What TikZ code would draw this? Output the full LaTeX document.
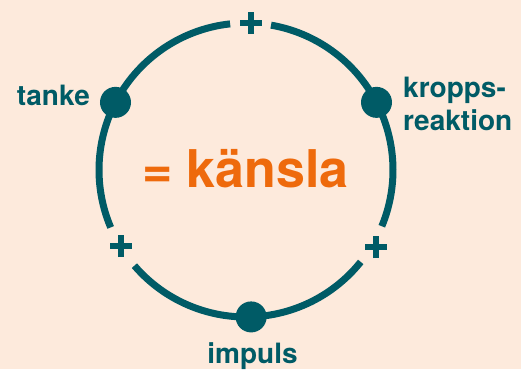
\documentclass[tikz,border=0pt]{standalone}
\usepackage{fontspec}
\setmainfont{TeX Gyre Heros}
\definecolor{bg}{HTML}{FDEADC}
\definecolor{teal}{HTML}{005B66}
\definecolor{orng}{HTML}{EE6A0C}
\begin{document}
\begin{tikzpicture}[x=1pt,y=1pt,
  ring/.style={draw=teal,line width=7pt},
  dot/.style={circle,fill=teal,minimum size=31pt,inner sep=0pt},
  plusbar/.style={draw=teal,line width=5.5pt},
  lbl/.style={text=teal,font=\bfseries\fontsize{28}{33}\selectfont,inner sep=0pt}]
\fill[bg] (0,0) rectangle (521,-369);
\useasboundingbox (0,0) rectangle (521,-369);
\coordinate (c) at (246,-170);
% ring arcs
\draw[ring] ([shift={(96.2:147)}]c) arc[start angle=96.2,end angle=203,radius=147];
\draw[ring] ([shift={(220.6:147)}]c) arc[start angle=220.6,end angle=321.3,radius=147];
\draw[ring] ([shift={(-22.5:147)}]c) arc[start angle=-22.5,end angle=80.2,radius=147];
% dots
\node[dot] (dt) at ([shift={(152.6:147)}]c) {};
\node[dot] (dk) at ([shift={(27.4:147)}]c) {};
\node[dot] (di) at ([shift={(272:147)}]c) {};
% plus signs
\coordinate (plustop) at (251,-23);
\coordinate (plusleft) at (121,-246);
\coordinate (plusright) at (376,-247);
\draw[plusbar] ([xshift=-11]plustop) -- ([xshift=11]plustop);
\draw[plusbar] ([yshift=-11]plustop) -- ([yshift=11]plustop);
\draw[plusbar] ([xshift=-11]plusleft) -- ([xshift=11]plusleft);
\draw[plusbar] ([yshift=-11]plusleft) -- ([yshift=11]plusleft);
\draw[plusbar] ([xshift=-11]plusright) -- ([xshift=11]plusright);
\draw[plusbar] ([yshift=-11]plusright) -- ([yshift=11]plusright);
% labels
\node[lbl,anchor=base east] (tanke) at (90,-105) {tanke};
\node[lbl,anchor=north west,align=left] (kropps) at (403,-77) {kropps-\\reaktion};
\node[lbl,anchor=base] (impuls) at (252.5,-363) {impuls};
\node[text=orng,font=\bfseries\fontsize{52}{60}\selectfont,inner sep=0pt,anchor=base west] (kansla) at (142,-187) {= känsla};
\end{tikzpicture}
\end{document}
